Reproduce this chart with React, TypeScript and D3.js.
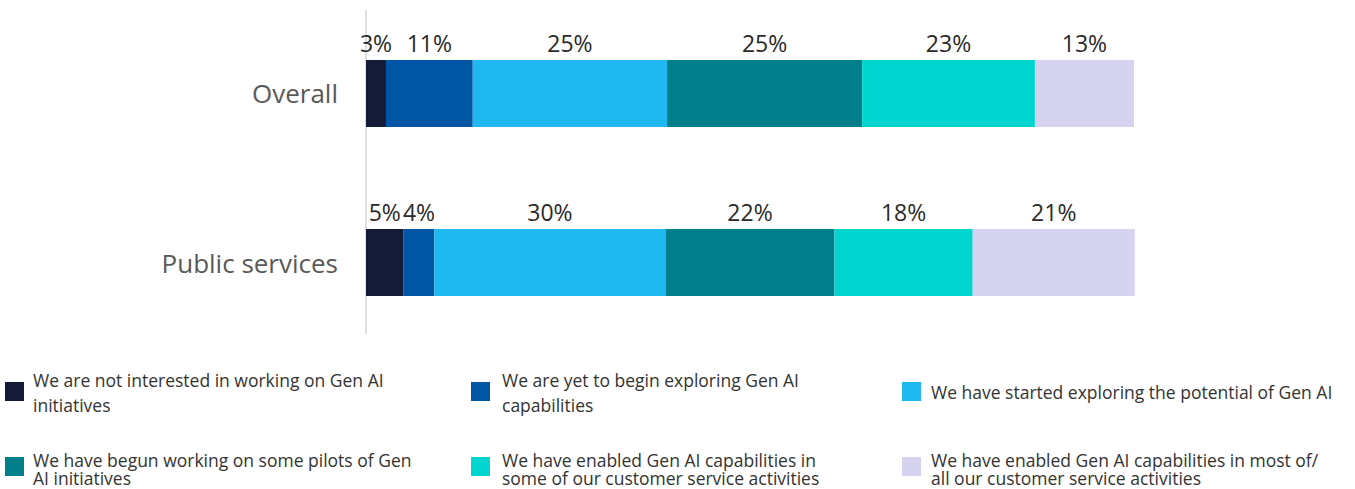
import React from "react";
import * as d3 from "d3";

const categories = ["Overall", "Public services"];
const seriesNames = [
  "We are not interested in working on Gen AI initiatives",
  "We are yet to begin exploring Gen AI capabilities",
  "We have started exploring the potential of Gen AI",
  "We have begun working on some pilots of Gen AI initiatives",
  "We have enabled Gen AI capabilities in some of our customer service activities",
  "We have enabled Gen AI capabilities in most of/ all our customer service activities",
];
const legendLines = [
  ["We are not interested in working on Gen AI", "initiatives"],
  ["We are yet to begin exploring Gen AI", "capabilities"],
  ["We have started exploring the potential of Gen AI"],
  ["We have begun working on some pilots of Gen", "AI initiatives"],
  ["We have enabled Gen AI capabilities in", "some of our customer service activities"],
  ["We have enabled Gen AI capabilities in most of/", "all our customer service activities"],
];
const colors = ["#141B38", "#0055A5", "#1FB8F0", "#007F8A", "#00D6CF", "#D5D3F0"];
const overallValues = [2.6, 11.3, 25.3, 25.4, 22.5, 12.9];
const publicValues = [4.9, 4.0, 30.1, 22.0, 18.0, 21.1];
const overallLabels = ["3%", "11%", "25%", "25%", "23%", "13%"];
const publicLabels = ["5%", "4%", "30%", "22%", "18%", "21%"];

const W = 1355;
const H = 489;
const FONT = "'Open Sans', 'Noto Sans', sans-serif";

export default function App() {
  const x = d3.scaleLinear().domain([0, 100]).range([366, 1134]);
  const y = d3
    .scaleBand<string>()
    .domain(categories)
    .range([60, 296])
    .paddingInner(0.6036)
    .paddingOuter(0);
  const rows = [
    { cat: categories[0], values: overallValues, labels: overallLabels },
    { cat: categories[1], values: publicValues, labels: publicLabels },
  ];
  const stack = (vals: number[]) => {
    let acc = 0;
    return vals.map((v) => {
      const s = acc;
      acc += v;
      return [s, acc];
    });
  };
  const legendX = [5, 471, 902];
  const legendTextX = [33, 502, 931];
  const legendRowY = [382, 457];

  return (
    <svg width={W} height={H} style={{ position: "absolute", left: 0, top: 0, fontFamily: FONT }}>
      <rect width={W} height={H} fill="#fff" />
      <line x1={x(0)} x2={x(0)} y1={10} y2={334} stroke="#e0e0e0" strokeWidth={2} />
      {rows.map((r) => {
        const segs = stack(r.values);
        const y0 = y(r.cat)!;
        const bw = y.bandwidth();
        return (
          <g key={r.cat}>
            <text
              x={338}
              y={y0 + bw / 2}
              textAnchor="end"
              dominantBaseline="central"
              fontSize={26}
              fill="#595959"
            >
              {r.cat}
            </text>
            {segs.map(([a, b], i) => (
              <rect key={i} x={x(a)} y={y0} width={x(b) - x(a)} height={bw} fill={colors[i]} />
            ))}
            {segs.map(([a, b], i) => (
              <text
                key={"l" + i}
                x={(x(a) + x(b)) / 2}
                y={y0 - 8}
                textAnchor="middle"
                fontSize={23}
                fill="#2a2a2a"
              >
                {r.labels[i]}
              </text>
            ))}
          </g>
        );
      })}
      {seriesNames.map((name, i) => {
        const col = i % 3;
        const row = Math.floor(i / 3);
        const sx = legendX[col];
        const sy = legendRowY[row];
        const lines = legendLines[i];
        const lh = row === 0 ? 25 : 18;
        const firstBase =
          lines.length === 1 ? sy + 17 : row === 0 ? sy + 5 : sy + 10;
        return (
          <g key={name}>
            <rect x={sx} y={sy} width={19} height={19} fill={colors[i]} />
            <text fontSize={17.5} fill="#333">
              {lines.map((ln, k) => (
                <tspan key={k} x={legendTextX[col]} y={firstBase + k * lh}>
                  {ln}
                </tspan>
              ))}
            </text>
          </g>
        );
      })}
    </svg>
  );
}
